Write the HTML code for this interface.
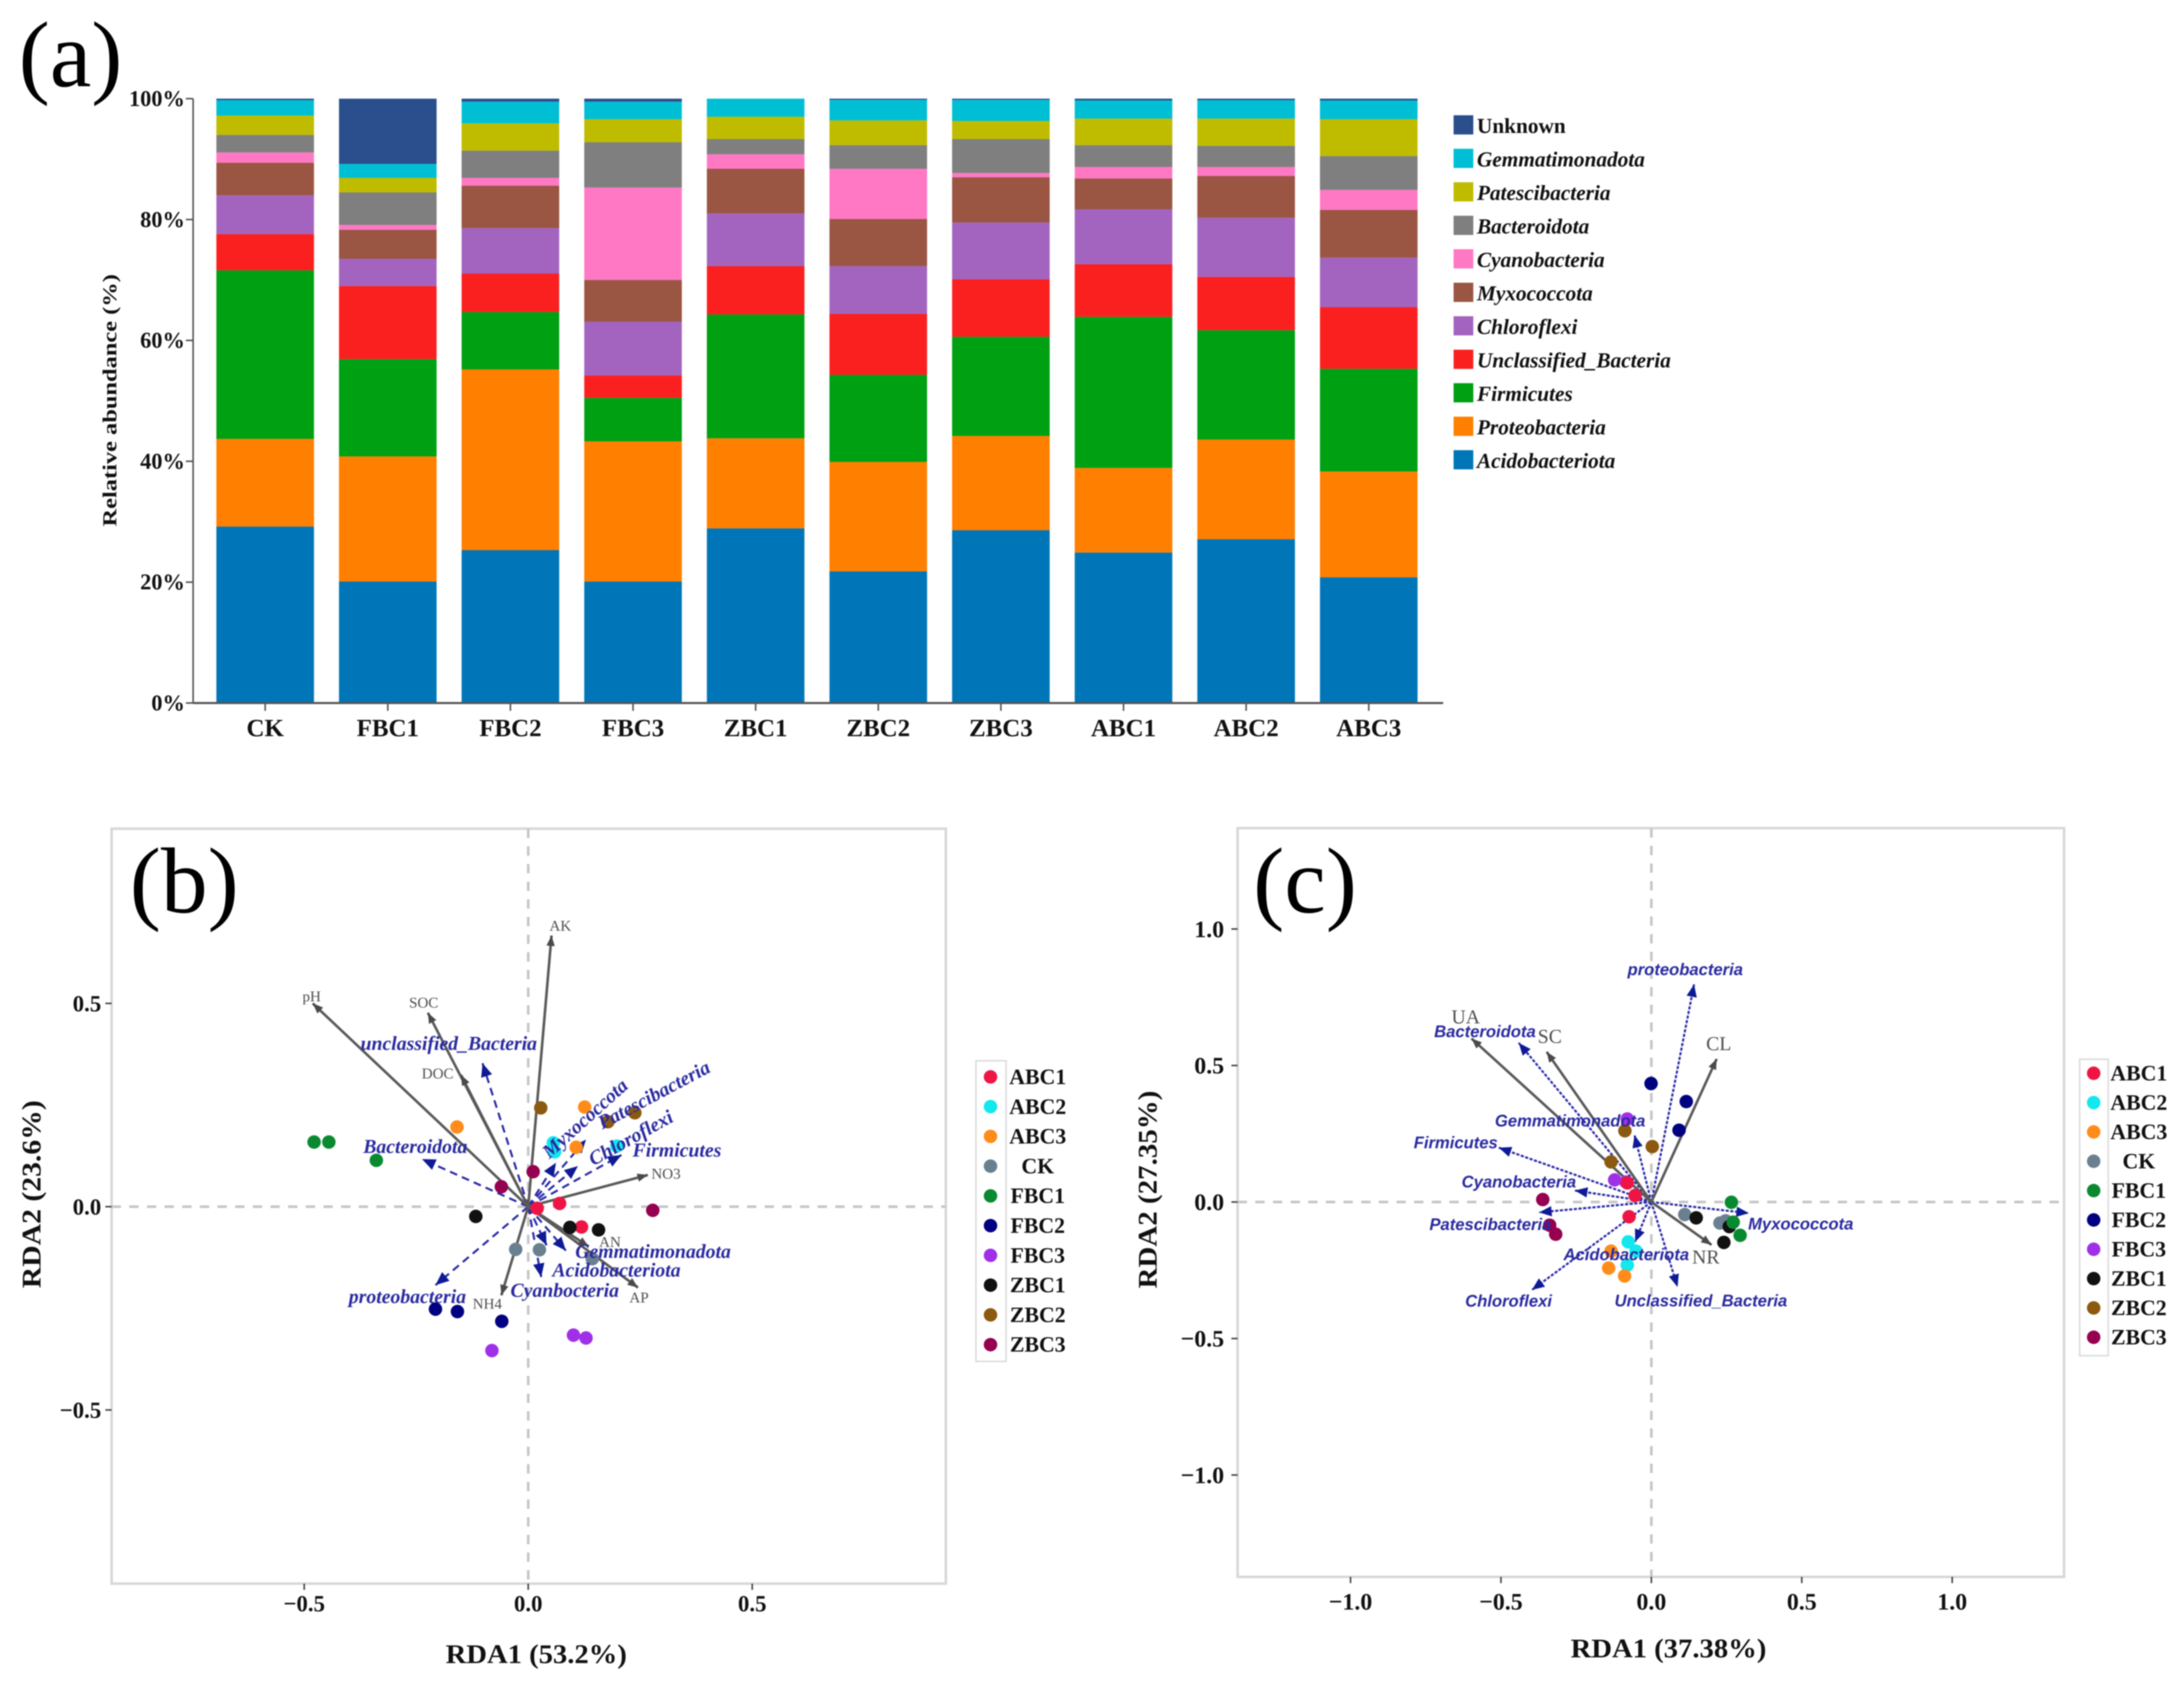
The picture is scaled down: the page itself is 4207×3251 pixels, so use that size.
<!DOCTYPE html>
<html lang="en">
<head>
<meta charset="utf-8">
<title>Bacterial community composition and RDA plots</title>
<style>
html,body{margin:0;padding:0;background:#fff;}
svg{display:block;filter:blur(1px);}
text{font-family:"Liberation Serif",serif;}
</style>
</head>
<body>
<svg id="figure" xmlns="http://www.w3.org/2000/svg" width="4207" height="3251" viewBox="0 0 4207 3251">
  <rect x="0" y="0" width="4207" height="3251" fill="#ffffff"/>
  <text x="36" y="166" font-size="180" fill="#000">(a)</text>
  <g id="panelA"></g>
  <g id="panelB"></g>
  <g id="panelC"></g>
  <text x="250" y="1757" font-size="180" fill="#000">(b)</text>
  <text x="2414" y="1757" font-size="180" fill="#000">(c)</text>
</svg>
<script>
/* ---------- Panel (a) data ---------- */
const categories = ['CK','FBC1','FBC2','FBC3','ZBC1','ZBC2','ZBC3','ABC1','ABC2','ABC3'];
const percentTicks = [0,20,40,60,80,100];
const acidobacteriota = [29.2,20.1,25.3,20.1,28.9,21.8,28.6,24.9,27.1,20.8];
const proteobacteria = [14.5,20.7,29.9,23.2,14.9,18.1,15.6,14.0,16.5,17.5];
const firmicutes = [27.9,16.1,9.5,7.2,20.5,14.4,16.4,25.0,18.1,17.0];
const unclassifiedBacteria = [6.0,12.1,6.35,3.7,8.0,10.1,9.5,8.7,8.8,10.2];
const chloroflexi = [6.4,4.5,7.55,8.9,8.7,7.9,9.4,9.1,9.8,8.2];
const myxococcota = [5.4,4.8,7.0,6.9,7.4,7.8,7.5,5.1,6.9,7.9];
const cyanobacteria = [1.7,0.8,1.3,15.3,2.4,8.3,0.7,1.9,1.5,3.3];
const bacteroidota = [2.9,5.4,4.5,7.5,2.5,3.9,5.6,3.6,3.5,5.6];
const patescibacteria = [3.2,2.4,4.5,3.8,3.7,4.1,3.0,4.4,4.5,6.1];
const gemmatimonadota = [2.55,2.3,3.6,2.9,3.0,3.4,3.5,3.0,3.05,3.1];
const unknown = [0.25,10.8,0.5,0.5,0,0.2,0.2,0.3,0.25,0.3];
const seriesNames = ['Acidobacteriota','Proteobacteria','Firmicutes','Unclassified_Bacteria','Chloroflexi','Myxococcota','Cyanobacteria','Bacteroidota','Patescibacteria','Gemmatimonadota','Unknown'];
const seriesValues = [acidobacteriota,proteobacteria,firmicutes,unclassifiedBacteria,chloroflexi,myxococcota,cyanobacteria,bacteroidota,patescibacteria,gemmatimonadota,unknown];
const seriesColors = ['#0076b8','#ff7f00','#00a013','#fb2020','#a364bf','#9a5543','#ff78c4','#7f7f7f','#bfbc00','#00bfd4','#2a4f8c'];

/* ---------- RDA shared ---------- */
const groupNames = ['ABC1','ABC2','ABC3','CK','FBC1','FBC2','FBC3','ZBC1','ZBC2','ZBC3'];
const groupColors = ['#ee1545','#12e8ee','#ff8c1a','#6a8090','#0a8a30','#000080','#a030e8','#111111','#8b5a10','#960050'];

/* ---------- Panel (b) data ---------- */
const bTicks = [-0.5,0,0.5];
const bTickLabels = ['\u22120.5','0.0','0.5'];
const bScoreGroups = ['FBC1','FBC1','FBC1','ABC3','ABC3','ABC3','ZBC2','ZBC2','ZBC2','ABC2','ABC2','ABC2','ZBC3','ZBC3','ZBC3','ABC1','ABC1','ABC1','ZBC1','ZBC1','ZBC1','CK','CK','CK','FBC2','FBC2','FBC2','FBC3','FBC3','FBC3'];
const bScoreX = [-0.478,-0.445,-0.339,-0.159,0.126,0.107,0.028,0.178,0.238,0.056,0.059,0.198,0.011,-0.060,0.278,0.020,0.070,0.119,-0.117,0.093,0.157,-0.028,0.025,0.143,-0.207,-0.158,-0.059,-0.081,0.101,0.129];
const bScoreY = [0.159,0.159,0.114,0.196,0.245,0.146,0.243,0.209,0.231,0.157,0.135,0.149,0.086,0.049,-0.009,-0.004,0.008,-0.050,-0.024,-0.051,-0.057,-0.105,-0.106,-0.128,-0.252,-0.258,-0.282,-0.354,-0.316,-0.323];
const bEnvNames = ['AK','pH','SOC','DOC','NO3','AP','AN','NH4'];
const bEnvX = [0.052,-0.481,-0.224,-0.150,0.267,0.245,0.135,-0.060];
const bEnvY = [0.667,0.500,0.477,0.324,0.078,-0.199,-0.098,-0.218];
const bTaxaNames = ['unclassified_Bacteria','Bacteroidota','Myxococcota','Patescibacteria','Chloroflexi','Firmicutes','Gemmatimonadota','Cyanbocteria','Acidobacteriota','proteobacteria'];
const bTaxaX = [-0.102,-0.237,0.062,0.129,0.111,0.208,0.084,0.041,0.029,-0.207];
const bTaxaY = [0.353,0.117,0.108,0.165,0.100,0.127,-0.108,-0.095,-0.173,-0.193];

/* ---------- Panel (c) data ---------- */
const cTicks = [-1,-0.5,0,0.5,1];
const cTickLabels = ['\u22121.0','\u22120.5','0.0','0.5','1.0'];
const cScoreGroups = ['FBC2','FBC2','FBC2','FBC3','FBC3','FBC3','ZBC2','ZBC2','ZBC2','ABC1','ABC1','ABC1','ZBC3','ZBC3','ZBC3','CK','CK','CK','ZBC1','ZBC1','ZBC1','FBC1','FBC1','FBC1','ABC2','ABC2','ABC2','ABC3','ABC3','ABC3'];
const cScoreX = [-0.001,0.116,0.092,-0.080,-0.122,-0.084,-0.088,0.003,-0.134,-0.080,-0.054,-0.074,-0.361,-0.338,-0.318,0.111,0.228,0.247,0.149,0.259,0.241,0.266,0.272,0.295,-0.077,-0.051,-0.080,-0.134,-0.142,-0.089];
const cScoreY = [0.434,0.368,0.263,0.304,0.081,0.073,0.261,0.203,0.147,0.070,0.024,-0.054,0.009,-0.085,-0.118,-0.046,-0.077,-0.069,-0.058,-0.090,-0.148,-0.001,-0.074,-0.122,-0.146,-0.180,-0.231,-0.180,-0.242,-0.271];
const cEnvNames = ['UA','SC','CL','NR'];
const cEnvX = [-0.598,-0.348,0.217,0.200];
const cEnvY = [0.599,0.550,0.524,-0.157];
const cTaxaNames = ['proteobacteria','Bacteroidota','Firmicutes','Gemmatimonadota','Cyanobacteria','Patescibacteria','Myxococcota','Acidobacteriota','Chloroflexi','Unclassified_Bacteria'];
const cTaxaX = [0.142,-0.441,-0.507,-0.056,-0.254,-0.373,0.324,-0.054,-0.397,0.087];
const cTaxaY = [0.797,0.583,0.199,0.245,0.042,-0.038,-0.041,-0.146,-0.322,-0.311];

/* ---------- Layout (annotation placement, not data) ---------- */
const bEnvLabelShift = {AK:[17,-19],pH:[-2,-14],SOC:[-8,-20],DOC:[-45,-3],NO3:[35,-3],AP:[2,19],AN:[41,-9],NH4:[-27,16]};
const bTaxaLabelShift = {unclassified_Bacteria:[-65,-38],Bacteroidota:[-13,-24],Myxococcota:[56,-85,-42],Patescibacteria:[131,-86,-28],Chloroflexi:[102,-54,-29],Firmicutes:[107,-9],Gemmatimonadota:[168,2],Cyanbocteria:[35,87],Acidobacteriota:[145,-13],proteobacteria:[-54,22]};
const cEnvLabelShift = {UA:[-11,-42],SC:[6,-30],CL:[4,-30],NR:[-11,23]};
const cTaxaLabelShift = {proteobacteria:[-17,-28],Bacteroidota:[-65,-21],Firmicutes:[-83,-9],Gemmatimonadota:[-124,-27],Cyanobacteria:[-108,-16],Patescibacteria:[-94,24],Myxococcota:[100,21],Acidobacteriota:[-17,25],Chloroflexi:[-45,22],Unclassified_Bacteria:[45,27]};

const NS = 'http://www.w3.org/2000/svg';
function mk(parent, tag, attrs, content){
  const el = document.createElementNS(NS, tag);
  for (const k in attrs) el.setAttribute(k, attrs[k]);
  if (content !== undefined) el.textContent = content;
  parent.appendChild(el);
  return el;
}
function slug(s){ return String(s).toLowerCase().replace(/[^a-z0-9]+/g,'-'); }

/* ---------- Draw panel (a) ---------- */
(function(){
  const g = document.getElementById('panelA');
  const xA = i => 510.8 + i*236.2;
  const yA = p => 1354 - p*11.64;
  const barW = 188;
  categories.forEach((cat,i)=>{
    let cum = 0;
    seriesValues.forEach((vals,s)=>{
      const v = vals[i];
      const r = mk(g,'rect',{x:xA(i)-barW/2,y:yA(cum+v),width:barW,height:Math.max(0,yA(cum)-yA(cum+v)),fill:seriesColors[s]});
      
      
      cum += v;
    });
  });
  const yAxis = mk(g,'line',{x1:372,x2:372,y1:yA(100),y2:yA(0),stroke:'#555','stroke-width':3});
  
  
  const xAxis = mk(g,'line',{x1:372,x2:2780,y1:yA(0),y2:yA(0),stroke:'#555','stroke-width':4});
  
  
  percentTicks.forEach(p=>{
    const t = mk(g,'line',{x1:358,x2:372,y1:yA(p),y2:yA(p),stroke:'#555','stroke-width':3});
    
    
    const l = mk(g,'text',{x:356,y:yA(p)+14,'text-anchor':'end','font-size':43,'font-weight':'bold',fill:'#111'},p+'%');
    
    
  });
  categories.forEach((cat,i)=>{
    const t = mk(g,'line',{x1:xA(i),x2:xA(i),y1:yA(0),y2:yA(0)+15,stroke:'#555','stroke-width':3});
    
    
    const l = mk(g,'text',{x:xA(i),y:1418,'text-anchor':'middle','font-size':48,'font-weight':'bold',fill:'#111'},cat);
    
    
  });
  const yt = mk(g,'text',{x:0,y:0,transform:'translate(224,771) rotate(-90)','text-anchor':'middle','font-size':38,'font-weight':'bold',fill:'#111',textLength:486,lengthAdjust:'spacingAndGlyphs'},'Relative abundance (%)');
  
  
  /* legend, top to bottom */
  for (let s = seriesNames.length-1, row = 0; s >= 0; s--, row++){
    const top = 222 + row*64.5;
    const sw = mk(g,'rect',{x:2800,y:top,width:38,height:37,fill:seriesColors[s]});
    
    
    const italic = seriesNames[s] === 'Unknown' ? 'normal' : 'italic';
    const tx = mk(g,'text',{x:2845,y:top+34,'font-size':41,'font-weight':'bold','font-style':italic,fill:'#111'},seriesNames[s]);
    
    
  }
})();

/* ---------- RDA drawing ---------- */
function drawArrowHead(g, sx, sy, tx, ty, len, wid, color){
  const d = Math.hypot(tx-sx,ty-sy) || 1;
  const ux=(tx-sx)/d, uy=(ty-sy)/d;
  const bx=tx-ux*len, by=ty-uy*len;
  const pts=[tx+','+ty,(bx-uy*wid/2)+','+(by+ux*wid/2),(bx+uy*wid/2)+','+(by-ux*wid/2)].join(' ');
  return mk(g,'polygon',{points:pts,fill:color});
}
function drawRDA(opt){
  const g = document.getElementById(opt.id);
  const X = opt.x, Y = opt.y;
  const box = mk(g,'rect',{x:opt.box[0],y:opt.box[1],width:opt.box[2]-opt.box[0],height:opt.box[3]-opt.box[1],fill:'#fff',stroke:'#d8d8d8','stroke-width':5});
  
  
  const zv = mk(g,'line',{x1:X(0),x2:X(0),y1:opt.box[1],y2:opt.box[3],stroke:'#c6c6c6','stroke-width':5,'stroke-dasharray':'18 16'});
  
  
  const zh = mk(g,'line',{x1:opt.box[0],x2:opt.box[2],y1:Y(0),y2:Y(0),stroke:'#c6c6c6','stroke-width':5,'stroke-dasharray':'18 16'});
  
  
  opt.ticks.forEach((t,i)=>{
    const a = mk(g,'line',{x1:X(t),x2:X(t),y1:opt.box[3],y2:opt.box[3]+12,stroke:'#444','stroke-width':3});
    
    
    const b = mk(g,'line',{x1:opt.box[0]-12,x2:opt.box[0],y1:Y(t),y2:Y(t),stroke:'#444','stroke-width':3});
    
    
    const xl = mk(g,'text',{x:X(t),y:opt.xTickY,'text-anchor':'middle','font-size':opt.tickSize,'font-weight':'bold',fill:'#111'},opt.tickLabels[i]);
    
    
    const yl = mk(g,'text',{x:opt.yTickX,y:Y(t)+opt.tickSize*0.34,'text-anchor':'end','font-size':opt.tickSize,'font-weight':'bold',fill:'#111'},opt.tickLabels[i]);
    
    
  });
  /* taxa arrows */
  opt.taxaNames.forEach((n,i)=>{
    const tx=X(opt.taxaX[i]), ty=Y(opt.taxaY[i]);
    const l = mk(g,'line',{x1:X(0),y1:Y(0),x2:tx,y2:ty,stroke:'#2a2aa8','stroke-width':opt.taxaStroke,'stroke-dasharray':opt.taxaDash});
    
    
    const h = drawArrowHead(g,X(0),Y(0),tx,ty,opt.headLen,opt.headWid,'#0e1a96');
    
    
  });
  /* environment arrows */
  opt.envNames.forEach((n,i)=>{
    const tx=X(opt.envX[i]), ty=Y(opt.envY[i]);
    const l = mk(g,'line',{x1:X(0),y1:Y(0),x2:tx,y2:ty,stroke:'#5a5a5a','stroke-width':5});
    
    
    const h = drawArrowHead(g,X(0),Y(0),tx,ty,20,16,'#4a4a4a');
    
    
  });
  /* sample points */
  opt.scoreGroups.forEach((grp,i)=>{
    const c = mk(g,'circle',{cx:X(opt.scoreX[i]),cy:Y(opt.scoreY[i]),r:13,fill:groupColors[groupNames.indexOf(grp)]});
    
    
  });
  /* env labels */
  opt.envNames.forEach((n,i)=>{
    const s = opt.envShift[n];
    const t = mk(g,'text',{x:X(opt.envX[i])+s[0],y:Y(opt.envY[i])+s[1]+opt.envSize*0.34,'text-anchor':'middle','font-size':opt.envSize,fill:'#4f4f4f'},n);
    
    
  });
  /* taxa labels */
  opt.taxaNames.forEach((n,i)=>{
    const s = opt.taxaShift[n];
    const px = X(opt.taxaX[i])+s[0], py = Y(opt.taxaY[i])+s[1];
    const attrs = {x:px,y:py+opt.taxaSize*0.32,'text-anchor':'middle','font-size':opt.taxaSize,'font-weight':'bold','font-style':'italic',fill:'#2a2aa0'};
    if (opt.taxaFont) attrs.style = 'font-family:'+opt.taxaFont;
    if (s[2]) attrs.transform = 'rotate('+s[2]+' '+px+' '+py+')';
    const t = mk(g,'text',attrs,n);
    
    
  });
  /* axis titles */
  const xt = mk(g,'text',{x:opt.xTitle[0],y:opt.xTitle[1],'text-anchor':'middle','font-size':52,'font-weight':'bold',fill:'#111',textLength:opt.xTitle[3],lengthAdjust:'spacingAndGlyphs'},opt.xTitle[2]);
  
  
  const yt = mk(g,'text',{x:0,y:0,transform:'translate('+opt.yTitle[0]+','+opt.yTitle[1]+') rotate(-90)','text-anchor':'middle','font-size':52,'font-weight':'bold',fill:'#111',textLength:opt.yTitle[3],lengthAdjust:'spacingAndGlyphs'},opt.yTitle[2]);
  
  
  /* legend */
  const lg = opt.legend;
  const frame = mk(g,'rect',{x:lg.x0,y:lg.y0,width:lg.x1-lg.x0,height:lg.step*groupNames.length+6,fill:'#fff',stroke:'#dcdcdc','stroke-width':3});
  
  
  groupNames.forEach((n,i)=>{
    const yy = lg.first + i*lg.step;
    const c = mk(g,'circle',{cx:lg.dotX,cy:yy,r:13,fill:groupColors[i]});
    
    
    const t = mk(g,'text',{x:lg.textX,y:yy+14,'text-anchor':'middle','font-size':42,'font-weight':'bold',fill:'#111'},n);
    
    
  });
}

drawRDA({
  id:'panelB', x:v=>1017.5+v*863, y:v=>2324-v*783, box:[215,1596,1822,3050],
  ticks:bTicks, tickLabels:bTickLabels, xTickY:3103, yTickX:195, tickSize:44,
  scoreGroups:bScoreGroups, scoreX:bScoreX, scoreY:bScoreY,
  envNames:bEnvNames, envX:bEnvX, envY:bEnvY, envShift:bEnvLabelShift, envSize:29,
  taxaNames:bTaxaNames, taxaX:bTaxaX, taxaY:bTaxaY, taxaShift:bTaxaLabelShift, taxaSize:38,
  taxaStroke:4, taxaDash:'15 10', headLen:26, headWid:22,
  xTitle:[1033,3203,'RDA1 (53.2%)',349], yTitle:[78,2300,'RDA2 (23.6%)',362],
  legend:{x0:1880,x1:1938,y0:2043,step:57.3,first:2074,dotX:1908,textX:1999}
});
drawRDA({
  id:'panelC', x:v=>3181+v*579.5, y:v=>2315-v*525.8, box:[2384,1595,3976,3037],
  ticks:cTicks, tickLabels:cTickLabels, xTickY:3100, yTickX:2358, tickSize:46,
  scoreGroups:cScoreGroups, scoreX:cScoreX, scoreY:cScoreY,
  envNames:cEnvNames, envX:cEnvX, envY:cEnvY, envShift:cEnvLabelShift, envSize:38,
  taxaNames:cTaxaNames, taxaX:cTaxaX, taxaY:cTaxaY, taxaShift:cTaxaLabelShift, taxaSize:32,
  taxaFont:'"Liberation Sans",sans-serif', taxaStroke:4, taxaDash:'6 3', headLen:24, headWid:20,
  xTitle:[3214,3192,'RDA1 (37.38%)',377], yTitle:[2228,2291,'RDA2 (27.35%)',381],
  legend:{x0:4006,x1:4061,y0:2040,step:56.5,first:2067,dotX:4033,textX:4120}
});
</script>
</body>
</html>
